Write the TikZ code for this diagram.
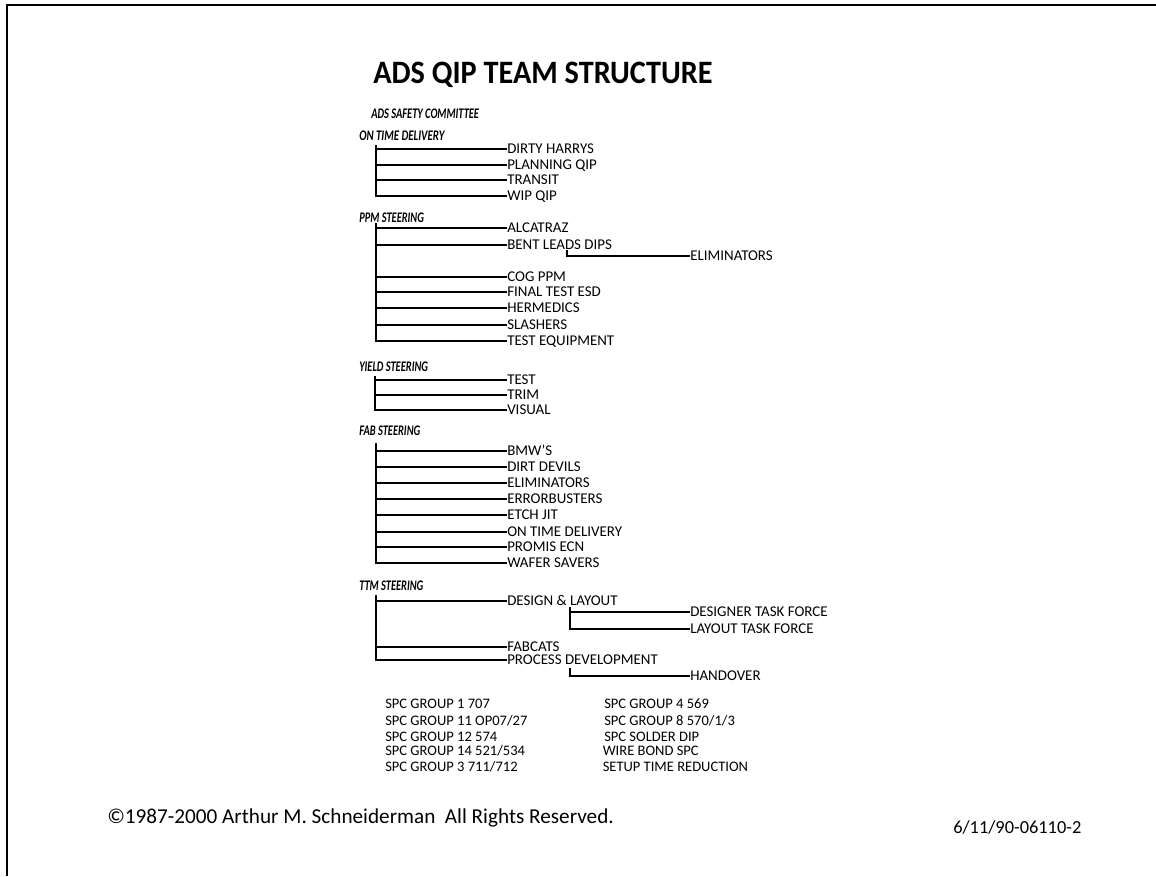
\documentclass[tikz,border=0pt]{standalone}
\usepackage{fontspec}
\setmainfont{Carlito}
\newcommand{\narrow}[2]{\scalebox{#1}[1]{#2}}
\begin{document}
\begin{tikzpicture}[x=0.75pt,y=-0.75pt,
  title/.style={font=\fontsize{24.5}{28}\selectfont\bfseries, inner sep=0, anchor=west, text height=15.8pt, text depth=0pt},
  hdr/.style={font=\fontsize{11}{13}\selectfont\bfseries\itshape, inner sep=0, anchor=base west},
  team/.style={font=\fontsize{11.2}{13}\selectfont, inner sep=0, anchor=west, text height=7.3pt, text depth=0pt},
  spc/.style={font=\fontsize{10.9}{13}\selectfont, inner sep=0, anchor=west, text height=7pt, text depth=0pt},
  foot/.style={font=\fontsize{15.9}{18}\selectfont, inner sep=0, anchor=west, text height=10.2pt, text depth=0pt},
  code/.style={font=\fontsize{13.8}{16}\selectfont, inner sep=0, anchor=west, text height=8.9pt, text depth=0pt},
  link/.style={line width=1.5pt},
  frame/.style={line width=1.5pt}]

% page area and frame
\useasboundingbox (0,0) rectangle (1156,876);
\coordinate (ftop) at (7,5);
\coordinate (fright) at (1156,5);
\coordinate (fbot) at (7,876);
\draw[frame] (fbot) -- (ftop) -- (fright);

% title
\node[title] (title) at (373,73) {\narrow{0.927}{ADS QIP TEAM STRUCTURE}};

% steering groups
\node[hdr] (safety) at (371,118) {\narrow{0.71}{ADS SAFETY COMMITTEE}};

\node[hdr] (otd) at (359,140) {\narrow{0.74}{ON TIME DELIVERY}};
\node[team] (dh)  at (507,149) {DIRTY HARRYS};
\node[team] (pq)  at (507,165) {PLANNING QIP};
\node[team] (tr)  at (507,180) {TRANSIT};
\node[team] (wip) at (507,196) {WIP QIP};
\foreach \c in {dh,pq,tr,wip}
  \draw[link] ([shift={(17,5)}]otd.base west) |- (\c.west);

\node[hdr] (ppm) at (359,222) {\narrow{0.71}{PPM STEERING}};
\node[team] (alc) at (507,228) {ALCATRAZ};
\node[team] (bld) at (507,245) {BENT LEADS DIPS};
\node[team] (elimA) at (690,256) {ELIMINATORS};
\node[team] (cog) at (507,277) {COG PPM};
\node[team] (fte) at (507,292) {FINAL TEST ESD};
\node[team] (her) at (507,308) {HERMEDICS};
\node[team] (sla) at (507,325) {SLASHERS};
\node[team] (teq) at (507,341) {TEST EQUIPMENT};
\foreach \c in {alc,bld,cog,fte,her,sla,teq}
  \draw[link] ([shift={(17,1)}]ppm.base west) |- (\c.west);
\draw[link] ([shift={(60,0)}]bld.south west) |- (elimA.west);

\node[hdr] (yld) at (359,371) {\narrow{0.71}{YIELD STEERING}};
\node[team] (tst) at (507,380) {TEST};
\node[team] (trm) at (507,395) {TRIM};
\node[team] (vis) at (507,410) {VISUAL};
\foreach \c in {tst,trm,vis}
  \draw[link] ([shift={(16,5)}]yld.base west) |- (\c.west);

\node[hdr] (fab) at (359,435) {\narrow{0.71}{FAB STEERING}};
\node[team] (bmw) at (507,451) {BMW'S};
\node[team] (dd)  at (507,467) {DIRT DEVILS};
\node[team] (elimB) at (507,483) {ELIMINATORS};
\node[team] (eb)  at (507,499) {ERRORBUSTERS};
\node[team] (ej)  at (507,515) {ETCH JIT};
\node[team] (otdB) at (507,532) {ON TIME DELIVERY};
\node[team] (pe)  at (507,547) {PROMIS ECN};
\node[team] (ws)  at (507,563) {WAFER SAVERS};
\foreach \c in {bmw,dd,elimB,eb,ej,otdB,pe,ws}
  \draw[link] ([shift={(17,8)}]fab.base west) |- (\c.west);

\node[hdr] (ttm) at (359,590) {\narrow{0.71}{TTM STEERING}};
\node[team] (dl)  at (507,601) {DESIGN \& LAYOUT};
\node[team] (dtf) at (690,612) {DESIGNER TASK FORCE};
\node[team] (ltf) at (690,629) {LAYOUT TASK FORCE};
\node[team] (fc)  at (507,647) {FABCATS};
\node[team] (pd)  at (507,660) {PROCESS DEVELOPMENT};
\node[team] (ho)  at (690,676) {HANDOVER};
\foreach \c in {dl,fc,pd}
  \draw[link] ([shift={(17,5)}]ttm.base west) |- (\c.west);
\foreach \c in {dtf,ltf}
  \draw[link] ([shift={(63,1)}]dl.south west) |- (\c.west);
\draw[link] ([shift={(63,3)}]pd.south west) |- (ho.west);

% SPC groups
\node[spc] (s1)  at (385,704) {SPC GROUP 1 707};
\node[spc] (s11) at (385,721) {SPC GROUP 11 OP07/27};
\node[spc] (s12) at (385,737) {SPC GROUP 12 574};
\node[spc] (s14) at (385,751) {SPC GROUP 14 521/534};
\node[spc] (s3)  at (385,767) {SPC GROUP 3 711/712};
\node[spc] (s4)  at (604,704) {SPC GROUP 4 569};
\node[spc] (s8)  at (604,721) {SPC GROUP 8 570/1/3};
\node[spc] (ssd) at (604,737) {SPC SOLDER DIP};
\node[spc] (wb)  at (602.5,751) {WIRE BOND SPC};
\node[spc] (str) at (602.5,767) {SETUP TIME REDUCTION};

% footer
\node[foot] (copy) at (107,817) {©1987-2000 Arthur M. Schneiderman~~All Rights Reserved.};
\node[code] (ref) at (953,828) {6/11/90-06110-2};
\end{tikzpicture}
\end{document}
